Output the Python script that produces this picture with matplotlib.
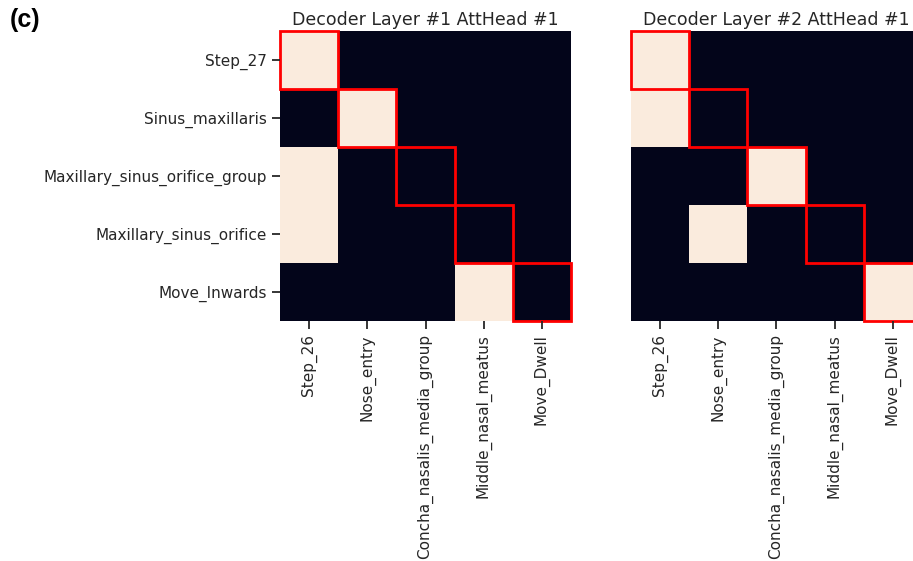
import numpy as np
import matplotlib
matplotlib.use("Agg")
import matplotlib.pyplot as plt
from matplotlib.colors import ListedColormap
from matplotlib.patches import Rectangle

# labels
row_labels = ["Step_27", "Sinus_maxillaris", "Maxillary_sinus_orifice_group",
              "Maxillary_sinus_orifice", "Move_Inwards"]
col_labels = ["Step_26", "Nose_entry", "Concha_nasalis_media_group",
              "Middle_nasal_meatus", "Move_Dwell"]
titles = ["Decoder Layer #1 AttHead #1", "Decoder Layer #2 AttHead #1"]

# attention maps (binary)
att_layer1 = [[1, 0, 0, 0, 0],
              [0, 1, 0, 0, 0],
              [1, 0, 0, 0, 0],
              [1, 0, 0, 0, 0],
              [0, 0, 0, 1, 0]]
att_layer2 = [[1, 0, 0, 0, 0],
              [1, 0, 0, 0, 0],
              [0, 0, 1, 0, 0],
              [0, 1, 0, 0, 0],
              [0, 0, 0, 0, 1]]

cmap = ListedColormap(["#03051a", "#faebdd"])
txt = "#262626"

fig = plt.figure(figsize=(9.13, 5.61), dpi=100)
ax1 = fig.add_axes([0.3067, 0.4278, 0.3187, 0.517])
ax2 = fig.add_axes([0.6911, 0.4278, 0.3187, 0.517])

for ax, data, title, show_y in [(ax1, att_layer1, titles[0], True),
                                (ax2, att_layer2, titles[1], False)]:
    m = np.array(data)
    ax.pcolormesh(m, cmap=cmap, vmin=0, vmax=1)
    ax.set_xlim(0, m.shape[1])
    ax.set_ylim(m.shape[0], 0)
    for s in ax.spines.values():
        s.set_visible(False)
    ax.set_xticks(np.arange(m.shape[1]) + 0.5)
    ax.set_xticklabels(col_labels, rotation=90, fontsize=11, color=txt)
    ax.set_yticks(np.arange(m.shape[0]) + 0.5)
    if show_y:
        ax.set_yticklabels(row_labels, fontsize=11, color=txt)
        ax.tick_params(axis="y", length=6, width=1.3, color=txt)
    else:
        ax.tick_params(axis="y", left=False, labelleft=False)
    ax.tick_params(axis="x", length=6, width=1.3, color=txt)
    ax.set_title(title, fontsize=12.5, pad=4, color=txt)
    # red box on diagonal
    for i in range(min(m.shape)):
        ax.add_patch(Rectangle((i, i), 1, 1, fill=False, edgecolor="red",
                               linewidth=2, clip_on=False))

fig.text(0.011, 0.985, "(c)", fontsize=18, fontweight="bold",
         family="Liberation Sans", va="top")

fig.savefig("out.png", dpi=100)
